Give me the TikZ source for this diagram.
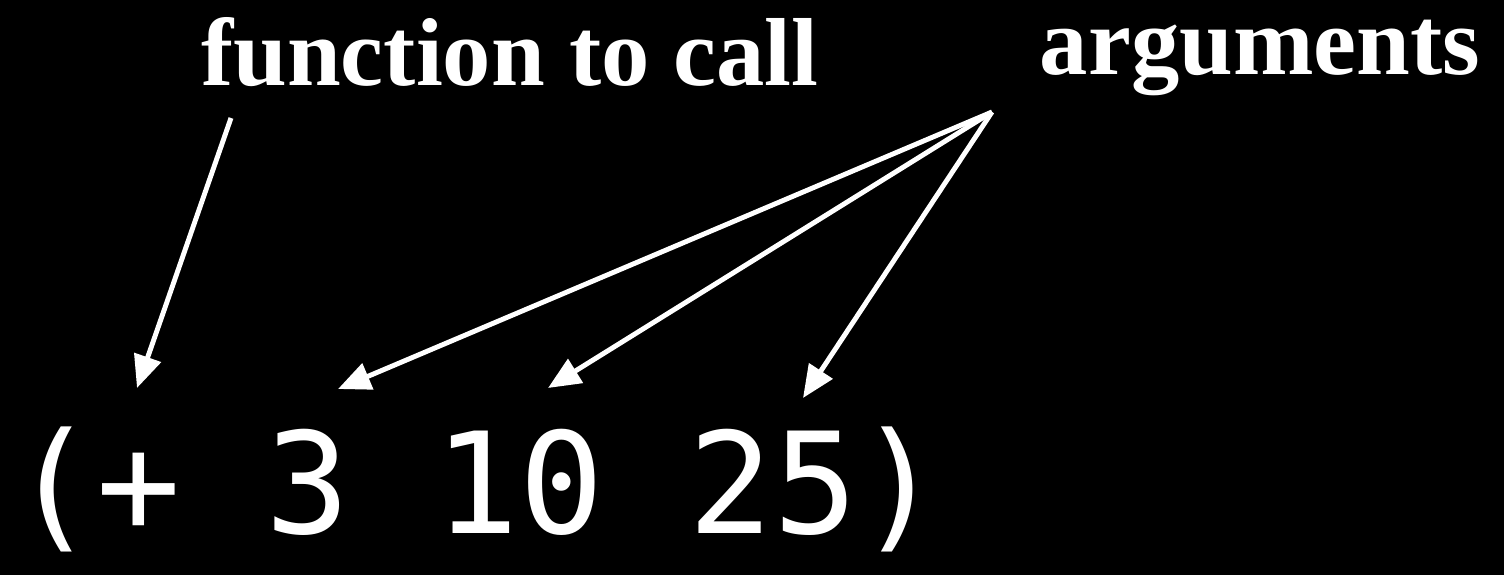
\documentclass[tikz,border=0pt]{standalone}
\usepackage{fontspec}
\setmainfont{Liberation Serif}
\setmonofont{DejaVu Sans Mono}
\usetikzlibrary{arrows.meta}

\begin{document}
\begin{tikzpicture}[
  x=0.02cm, y=-0.02cm,
  lbl/.style={font=\fontsize{55}{60}\selectfont\bfseries, text=white, inner sep=0pt, anchor=base},
  code/.style={font=\fontsize{80}{90}\selectfont\ttfamily, text=white, inner sep=0pt, anchor=base},
  arr/.style={white, line width=2.8pt, -{Triangle[length=6.5mm, width=5.5mm]}}]
\fill[black] (0,0) rectangle (1504,575);
\node[lbl] (func) at (510,85) {function to call};
\node[lbl] (args) at (1260,74) {arguments};
\node[code] (expr) at (477,533) {(+ 3 10 25)};
% arrow ends
\coordinate (fstart) at (231,118);
\coordinate (astart) at (992,112);
\coordinate (plus) at (137,388);
\coordinate (three) at (338,389);
\coordinate (ten) at (548,388);
\coordinate (twofive) at (803,398);
\draw[arr] (fstart) -- (plus);
\draw[arr] (astart) -- (three); \draw[arr] (astart) -- (ten);
\draw[arr] (astart) -- (twofive);
\end{tikzpicture}
\end{document}
